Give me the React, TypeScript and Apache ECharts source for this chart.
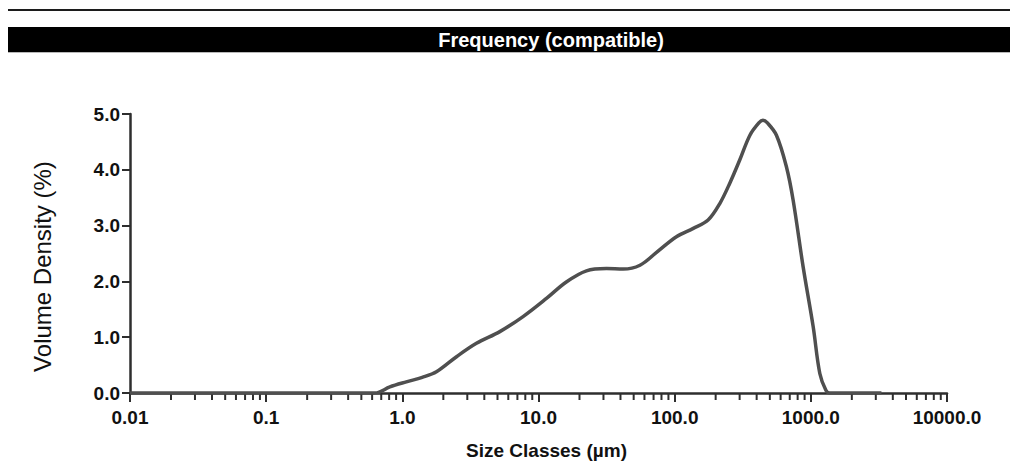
import React, { useEffect, useRef } from "react";
import * as echarts from "echarts";

// Size classes (µm) and volume density (%)
const sizeClasses = [
  0.01, 0.63, 0.81, 1.07, 1.4, 1.78, 2.5, 3.5, 5.2, 7.7, 11.5, 16, 22.5, 31.6,
  41.9, 55.6, 73.6, 103, 137, 176, 215, 254, 301, 357, 415, 445, 480, 559, 661,
  741, 878, 1040, 1164, 1290, 1380, 3300,
];
const volumeDensity = [
  0, 0, 0.11, 0.2, 0.28, 0.38, 0.65, 0.89, 1.1, 1.37, 1.7, 1.99, 2.19, 2.23,
  2.22, 2.29, 2.52, 2.8, 2.95, 3.1, 3.4, 3.76, 4.18, 4.62, 4.84, 4.89, 4.84,
  4.62, 4.06, 3.46, 2.26, 1.19, 0.35, 0.05, 0, 0,
];

// Axis decoration: decades and minor tick multipliers (log axis 2..9)
const decades = [0.01, 0.1, 1, 10, 100, 1000];
const minorMultipliers = [2, 3, 4, 5, 6, 7, 8, 9];
const yTickValues = [0, 1, 2, 3, 4, 5];

const titleText = "Frequency (compatible)";
const xName = "Size Classes (µm)";
const yName = "Volume Density (%)";

export default function App() {
  const ref = useRef<HTMLDivElement>(null);

  useEffect(() => {
    if (!ref.current) return;
    const chart = echarts.init(ref.current, undefined, { renderer: "svg" });
    const minorTicks: number[][] = [];
    decades.forEach((d) =>
      minorMultipliers.forEach((m) => minorTicks.push([+(d * m).toPrecision(3), 0]))
    );
    const lineData = sizeClasses.map((s, i) => [s, volumeDensity[i]]);
    const axisColor = "#2e2e2e";
    const labelFont = "'Liberation Sans', Arial, sans-serif";

    chart.setOption({
      animation: false,
      backgroundColor: "#ffffff",
      grid: {
        left: 130,
        right: 63,
        top: 114,
        bottom: 69,
        containLabel: false,
        outerBoundsMode: "none",
      },
      graphic: [
        { type: "rect", shape: { x: 8, y: 9, width: 1002, height: 2 }, style: { fill: "#1c1c1c" } },
        { type: "rect", shape: { x: 8, y: 27, width: 1002, height: 25 }, style: { fill: "#000000" } },
        { type: "rect", shape: { x: 8, y: 52, width: 1002, height: 1 }, style: { fill: "#b8b8b8" } },
        {
          type: "text",
          x: 551,
          y: 40,
          style: {
            text: titleText,
            fill: "#ffffff",
            font: `bold 20px ${labelFont}`,
            textAlign: "center",
            textVerticalAlign: "middle",
          },
        },
      ],
      xAxis: {
        type: "log",
        logBase: 10,
        min: 0.01,
        max: 10000,
        splitNumber: 6,
        name: xName,
        nameLocation: "middle",
        nameGap: 48,
        nameTextStyle: {
          fontFamily: labelFont,
          fontWeight: "bold",
          fontSize: 19,
          color: "#111",
          padding: [0, 0, 0, 16],
        },
        axisLine: { show: true, onZero: false, lineStyle: { color: axisColor, width: 2.5 } },
        axisTick: { show: true, inside: false, length: 9, lineStyle: { color: axisColor, width: 2 } },
        axisLabel: {
          margin: 15,
          fontFamily: labelFont,
          fontWeight: "bold",
          fontSize: 19,
          color: "#111",
          formatter: (v: number) => (v < 1 ? String(+v.toPrecision(2)) : v.toFixed(1)),
        },
        splitLine: { show: false },
      },
      yAxis: {
        type: "value",
        min: 0,
        max: 5,
        interval: 1,
        name: yName,
        nameLocation: "middle",
        nameRotate: 90,
        nameGap: 76,
        nameTextStyle: {
          fontFamily: labelFont,
          fontSize: 24,
          color: "#111",
          padding: [0, 26, 0, 0],
        },
        axisLine: { show: true, lineStyle: { color: axisColor, width: 2.5 } },
        axisTick: { show: true, inside: false, length: 8, lineStyle: { color: axisColor, width: 2 } },
        axisLabel: {
          margin: 10,
          fontFamily: labelFont,
          fontWeight: "bold",
          fontSize: 19,
          color: "#111",
          formatter: (v: number) => (yTickValues.includes(v) ? v.toFixed(1) : ""),
        },
        splitLine: { show: false },
      },
      series: [
        {
          type: "custom",
          name: "minorTicks",
          silent: true,
          clip: false,
          data: minorTicks,
          encode: { x: 0, y: 1 },
          renderItem: (_params: any, api: any) => {
            const p = api.coord([api.value(0), 0]);
            return {
              type: "line",
              shape: { x1: p[0], y1: p[1], x2: p[0], y2: p[1] + 7 },
              style: { stroke: axisColor, lineWidth: 2 },
            };
          },
          z: 1,
        },
        {
          type: "line",
          name: "Volume Density",
          data: lineData,
          smooth: 0.35,
          symbol: "none",
          lineStyle: { color: "#4f4f4f", width: 3.5 },
          z: 3,
        },
      ],
    });
    return () => chart.dispose();
  }, []);

  return (
    <div
      ref={ref}
      style={{ position: "fixed", left: 0, top: 0, width: 1010, height: 462 }}
    />
  );
}
